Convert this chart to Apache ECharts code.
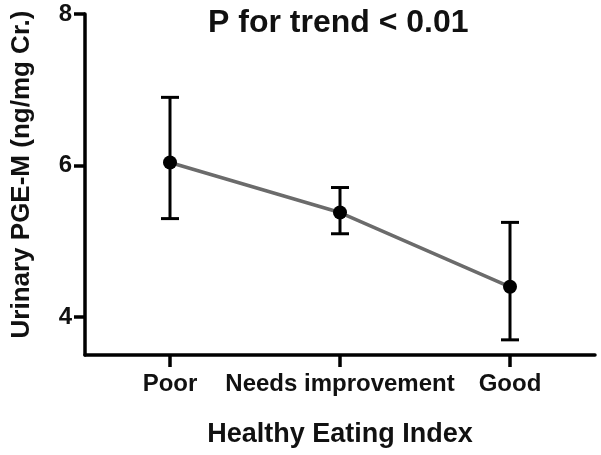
<!DOCTYPE html>
<html>
<head>
<meta charset="utf-8">
<script src="https://cdn.jsdelivr.net/npm/echarts@6/dist/echarts.min.js"></script>
<style>html,body{margin:0;padding:0;background:#fff}#c{width:601px;height:455px}</style>
</head>
<body>
<div id="c"></div>
<script>
const categories = ['Poor', 'Needs improvement', 'Good'];
const meanValues = [6.04, 5.38, 4.40];
const lowerValues = [5.30, 5.10, 3.70];
const upperValues = [6.90, 5.71, 5.25];
const yTickValues = [4, 6, 8];
const titleText = 'P for trend < 0.01';
const xAxisTitle = 'Healthy Eating Index';
const yAxisTitle = 'Urinary PGE-M (ng/mg Cr.)';

const FONT = '"Liberation Sans", Arial, sans-serif';
const chart = echarts.init(document.getElementById('c'), null, {renderer: 'canvas'});

const errData = categories.map((c, i) => [i, lowerValues[i], upperValues[i]]);

chart.setOption({
  animation: false,
  backgroundColor: '#ffffff',
  grid: {left: 85, right: 6, top: 14, bottom: 100, containLabel: false},
  graphic: [{
    type: 'text', left: 208, top: 7,
    style: {text: titleText, font: 'bold 32px ' + FONT, fill: '#111'}
  }],
  xAxis: {
    type: 'category',
    data: categories,
    boundaryGap: true,
    name: xAxisTitle,
    nameLocation: 'middle',
    nameGap: 66,
    nameTextStyle: {fontFamily: FONT, fontWeight: 'bold', fontSize: 27, color: '#111'},
    axisLine: {show: true, lineStyle: {color: '#000', width: 3.5}},
    axisTick: {show: true, alignWithLabel: true, length: 12, lineStyle: {color: '#000', width: 3.5}},
    axisLabel: {show: true, interval: 0, margin: 17, fontFamily: FONT, fontWeight: 'bold', fontSize: 24, color: '#111'},
    splitLine: {show: false}
  },
  yAxis: {
    type: 'value',
    min: 3.5,
    max: 8,
    name: yAxisTitle,
    nameLocation: 'middle',
    nameGap: 50,
    nameRotate: 90,
    nameTextStyle: {fontFamily: FONT, fontWeight: 'bold', fontSize: 26, color: '#111', padding: [0, 0, 0, 20]},
    axisLine: {show: true, lineStyle: {color: '#000', width: 3.5}},
    axisTick: {show: true, length: 11, customValues: yTickValues, lineStyle: {color: '#000', width: 3.5}},
    axisLabel: {show: true, margin: 13, customValues: yTickValues, fontFamily: FONT, fontWeight: 'bold', fontSize: 24, color: '#111'},
    splitLine: {show: false}
  },
  series: [{
    type: 'custom',
    data: errData,
    z: 2,
    renderItem: function (params, api) {
      const x = api.value(0);
      const lo = api.coord([x, api.value(1)]);
      const hi = api.coord([x, api.value(2)]);
      const hw = 9;
      const st = {stroke: '#000', lineWidth: 3};
      return {type: 'group', children: [
        {type: 'line', shape: {x1: lo[0], y1: lo[1], x2: hi[0], y2: hi[1]}, style: st},
        {type: 'line', shape: {x1: lo[0] - hw, y1: lo[1], x2: lo[0] + hw, y2: lo[1]}, style: st},
        {type: 'line', shape: {x1: hi[0] - hw, y1: hi[1], x2: hi[0] + hw, y2: hi[1]}, style: st}
      ]};
    }
  }, {
    type: 'line',
    data: meanValues,
    z: 3,
    symbol: 'circle',
    symbolSize: 14,
    lineStyle: {color: '#6b6b6b', width: 3.5},
    itemStyle: {color: '#000'}
  }]
});
</script>
</body>
</html>
